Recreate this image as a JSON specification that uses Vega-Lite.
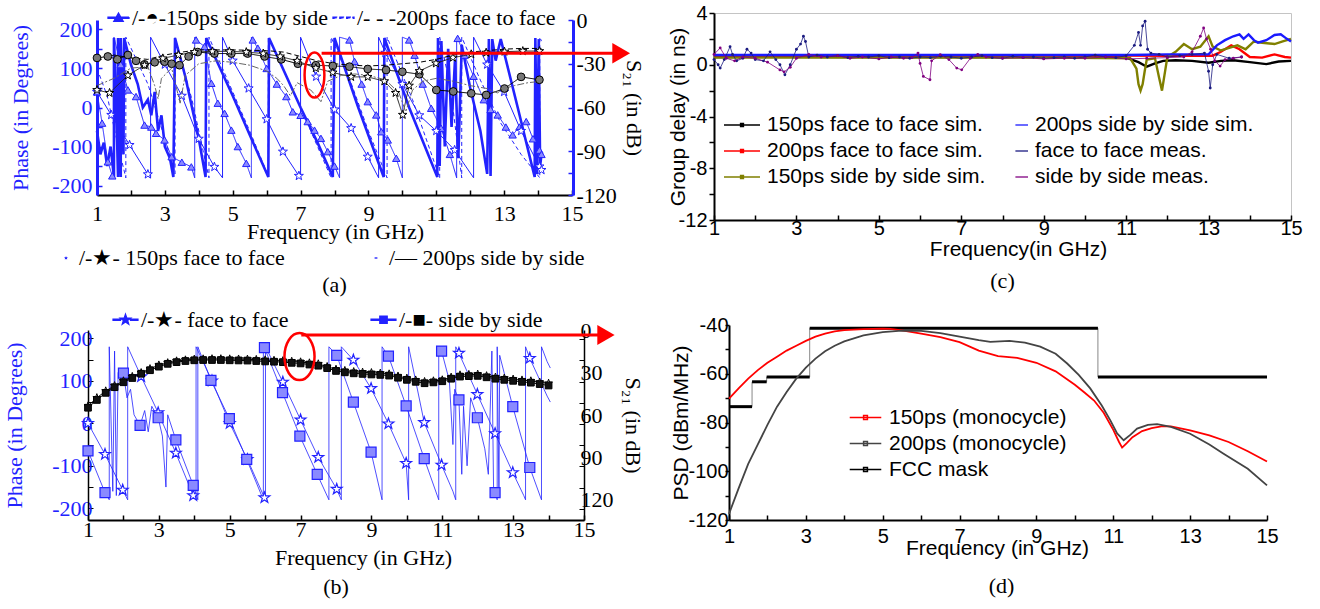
{
"$schema": "https://vega.github.io/schema/vega-lite/v6.json",
"autosize": {"type": "none"},
"padding": {"left": 88, "top": 13, "right": 1232, "bottom": 596},
"background": "#ffffff",
"config": {"view": {"stroke": null}, "axis": {"grid": false, "labelFontWeight": "normal", "titleFontWeight": "normal"}, "legend": {"symbolLimit": 0}, "title": {"fontWeight": "normal"}},
"datasets": {
"aPhase": [
{"s":"150ps side by side","f":1.0,"v":40},{"s":"150ps side by side","f":1.15,"v":-40},{"s":"150ps side by side","f":1.32,"v":-139},{"s":"150ps side by side","f":1.45,"v":-175},{"s":"150ps side by side","f":1.5,"v":-180},{"s":"150ps side by side","f":1.5,"v":180},{"s":"150ps side by side","f":1.7,"v":110},{"s":"150ps side by side","f":1.91,"v":45},{"s":"150ps side by side","f":2.15,"v":28},{"s":"150ps side by side","f":2.4,"v":-45},{"s":"150ps side by side","f":2.6,"v":-50},{"s":"150ps side by side","f":2.74,"v":-66},{"s":"150ps side by side","f":2.99,"v":-83},{"s":"150ps side by side","f":3.2,"v":-126},{"s":"150ps side by side","f":3.5,"v":-140},{"s":"150ps side by side","f":3.78,"v":-152},{"s":"150ps side by side","f":3.88,"v":-180},{"s":"150ps side by side","f":3.88,"v":180},{"s":"150ps side by side","f":3.92,"v":173},{"s":"150ps side by side","f":4.17,"v":156},{"s":"150ps side by side","f":4.37,"v":62},{"s":"150ps side by side","f":4.56,"v":11},{"s":"150ps side by side","f":4.76,"v":-15},{"s":"150ps side by side","f":4.96,"v":-58},{"s":"150ps side by side","f":5.15,"v":-100},{"s":"150ps side by side","f":5.4,"v":-143},{"s":"150ps side by side","f":5.55,"v":-180},{"s":"150ps side by side","f":5.55,"v":180},{"s":"150ps side by side","f":5.59,"v":173},{"s":"150ps side by side","f":5.74,"v":152},{"s":"150ps side by side","f":6.0,"v":100},{"s":"150ps side by side","f":6.3,"v":60},{"s":"150ps side by side","f":6.58,"v":28},{"s":"150ps side by side","f":6.77,"v":-11},{"s":"150ps side by side","f":7.0,"v":-20},{"s":"150ps side by side","f":7.21,"v":-36},{"s":"150ps side by side","f":7.41,"v":-58},{"s":"150ps side by side","f":7.6,"v":-79},{"s":"150ps side by side","f":7.8,"v":-113},{"s":"150ps side by side","f":8.0,"v":-150},{"s":"150ps side by side","f":8.15,"v":-180},{"s":"150ps side by side","f":8.15,"v":180},{"s":"150ps side by side","f":8.44,"v":173},{"s":"150ps side by side","f":8.59,"v":118},{"s":"150ps side by side","f":8.8,"v":60},{"s":"150ps side by side","f":8.98,"v":15},{"s":"150ps side by side","f":9.23,"v":-19},{"s":"150ps side by side","f":9.38,"v":-62},{"s":"150ps side by side","f":9.57,"v":-83},{"s":"150ps side by side","f":9.82,"v":-130},{"s":"150ps side by side","f":10.0,"v":-180},{"s":"150ps side by side","f":10.0,"v":180},{"s":"150ps side by side","f":10.2,"v":173},{"s":"150ps side by side","f":10.36,"v":134},{"s":"150ps side by side","f":10.6,"v":60},{"s":"150ps side by side","f":10.85,"v":-2},{"s":"150ps side by side","f":11.14,"v":-53},{"s":"150ps side by side","f":11.4,"v":-120},{"s":"150ps side by side","f":11.6,"v":-180},{"s":"150ps side by side","f":11.6,"v":180},{"s":"150ps side by side","f":11.63,"v":177},{"s":"150ps side by side","f":11.83,"v":134},{"s":"150ps side by side","f":12.1,"v":80},{"s":"150ps side by side","f":12.4,"v":20},{"s":"150ps side by side","f":12.6,"v":-5},{"s":"150ps side by side","f":12.81,"v":-19},{"s":"150ps side by side","f":13.05,"v":-50},{"s":"150ps side by side","f":13.25,"v":-70},{"s":"150ps side by side","f":13.45,"v":-50},{"s":"150ps side by side","f":13.65,"v":-36},{"s":"150ps side by side","f":13.85,"v":-80},{"s":"150ps side by side","f":14.04,"v":-109},{"s":"150ps side by side","f":14.1,"v":-120},
{"s":"200ps face to face","f":1.0,"v":100},{"s":"200ps face to face","f":1.3,"v":30},{"s":"200ps face to face","f":1.6,"v":-90},{"s":"200ps face to face","f":1.85,"v":-180},{"s":"200ps face to face","f":1.85,"v":180},{"s":"200ps face to face","f":2.5,"v":60},{"s":"200ps face to face","f":3.0,"v":-80},{"s":"200ps face to face","f":3.3,"v":-170},{"s":"200ps face to face","f":3.3,"v":180},{"s":"200ps face to face","f":3.8,"v":20},{"s":"200ps face to face","f":4.3,"v":-180},{"s":"200ps face to face","f":4.3,"v":180},{"s":"200ps face to face","f":5.0,"v":40},{"s":"200ps face to face","f":5.5,"v":-60},{"s":"200ps face to face","f":6.05,"v":-175},{"s":"200ps face to face","f":6.05,"v":180},{"s":"200ps face to face","f":7.0,"v":0},{"s":"200ps face to face","f":7.9,"v":-180},{"s":"200ps face to face","f":7.9,"v":180},{"s":"200ps face to face","f":8.5,"v":60},{"s":"200ps face to face","f":9.0,"v":-60},{"s":"200ps face to face","f":9.55,"v":-180},{"s":"200ps face to face","f":9.55,"v":180},{"s":"200ps face to face","f":10.3,"v":20},{"s":"200ps face to face","f":11.1,"v":-180},{"s":"200ps face to face","f":11.1,"v":180},{"s":"200ps face to face","f":11.4,"v":60},{"s":"200ps face to face","f":11.75,"v":-180},{"s":"200ps face to face","f":11.75,"v":180},{"s":"200ps face to face","f":12.3,"v":70},{"s":"200ps face to face","f":12.9,"v":-40},{"s":"200ps face to face","f":13.5,"v":-120},{"s":"200ps face to face","f":14.05,"v":-180},{"s":"200ps face to face","f":14.05,"v":180},{"s":"200ps face to face","f":14.1,"v":170},
{"s":"150ps face to face","f":1.0,"v":40},{"s":"150ps face to face","f":1.42,"v":-19},{"s":"150ps face to face","f":1.96,"v":-96},{"s":"150ps face to face","f":2.5,"v":-171},{"s":"150ps face to face","f":2.58,"v":-180},{"s":"150ps face to face","f":2.58,"v":180},{"s":"150ps face to face","f":3.0,"v":110},{"s":"150ps face to face","f":3.5,"v":30},{"s":"150ps face to face","f":4.0,"v":-80},{"s":"150ps face to face","f":4.46,"v":-152},{"s":"150ps face to face","f":4.7,"v":-180},{"s":"150ps face to face","f":4.7,"v":180},{"s":"150ps face to face","f":5.0,"v":120},{"s":"150ps face to face","f":5.47,"v":49},{"s":"150ps face to face","f":6.0,"v":-30},{"s":"150ps face to face","f":6.48,"v":-113},{"s":"150ps face to face","f":6.95,"v":-175},{"s":"150ps face to face","f":7.0,"v":-180},{"s":"150ps face to face","f":7.0,"v":180},{"s":"150ps face to face","f":7.46,"v":79},{"s":"150ps face to face","f":8.0,"v":-5},{"s":"150ps face to face","f":8.49,"v":-53},{"s":"150ps face to face","f":8.98,"v":-126},{"s":"150ps face to face","f":9.3,"v":-180},{"s":"150ps face to face","f":9.3,"v":180},{"s":"150ps face to face","f":9.5,"v":140},{"s":"150ps face to face","f":10.0,"v":60},{"s":"150ps face to face","f":10.5,"v":-20},{"s":"150ps face to face","f":11.0,"v":-60},{"s":"150ps face to face","f":11.54,"v":-109},{"s":"150ps face to face","f":12.1,"v":-180},{"s":"150ps face to face","f":12.1,"v":180},{"s":"150ps face to face","f":12.5,"v":110},{"s":"150ps face to face","f":13.0,"v":40},{"s":"150ps face to face","f":13.5,"v":-60},{"s":"150ps face to face","f":14.04,"v":-151},{"s":"150ps face to face","f":14.1,"v":-160},
{"s":"200ps side by side","f":1.0,"v":-60},{"s":"200ps side by side","f":1.1,"v":-120},{"s":"200ps side by side","f":1.2,"v":-90},{"s":"200ps side by side","f":1.3,"v":-150},{"s":"200ps side by side","f":1.4,"v":-100},{"s":"200ps side by side","f":1.5,"v":-178},{"s":"200ps side by side","f":1.5,"v":178},{"s":"200ps side by side","f":1.55,"v":60},{"s":"200ps side by side","f":1.62,"v":-178},{"s":"200ps side by side","f":1.62,"v":178},{"s":"200ps side by side","f":1.7,"v":-178},{"s":"200ps side by side","f":1.7,"v":178},{"s":"200ps side by side","f":1.78,"v":-120},{"s":"200ps side by side","f":1.8,"v":178},{"s":"200ps side by side","f":2.0,"v":110},{"s":"200ps side by side","f":2.2,"v":60},{"s":"200ps side by side","f":2.35,"v":0},{"s":"200ps side by side","f":2.5,"v":20},{"s":"200ps side by side","f":2.6,"v":-20},{"s":"200ps side by side","f":2.7,"v":40},{"s":"200ps side by side","f":2.8,"v":-60},{"s":"200ps side by side","f":2.9,"v":-20},{"s":"200ps side by side","f":3.0,"v":-100},{"s":"200ps side by side","f":3.15,"v":-130},{"s":"200ps side by side","f":3.25,"v":-178},{"s":"200ps side by side","f":3.3,"v":178},{"s":"200ps side by side","f":3.6,"v":80},{"s":"200ps side by side","f":4.0,"v":-80},{"s":"200ps side by side","f":4.2,"v":-178},{"s":"200ps side by side","f":4.22,"v":178},{"s":"200ps side by side","f":5.0,"v":30},{"s":"200ps side by side","f":5.5,"v":-70},{"s":"200ps side by side","f":6.05,"v":-178},{"s":"200ps side by side","f":6.07,"v":178},{"s":"200ps side by side","f":7.0,"v":0},{"s":"200ps side by side","f":7.5,"v":-90},{"s":"200ps side by side","f":7.95,"v":-178},{"s":"200ps side by side","f":8.0,"v":178},{"s":"200ps side by side","f":8.7,"v":0},{"s":"200ps side by side","f":9.45,"v":-178},{"s":"200ps side by side","f":9.47,"v":178},{"s":"200ps side by side","f":10.2,"v":0},{"s":"200ps side by side","f":11.03,"v":-178},{"s":"200ps side by side","f":11.05,"v":178},{"s":"200ps side by side","f":11.1,"v":-150},{"s":"200ps side by side","f":11.15,"v":170},{"s":"200ps side by side","f":11.25,"v":-100},{"s":"200ps side by side","f":11.35,"v":150},{"s":"200ps side by side","f":11.45,"v":-50},{"s":"200ps side by side","f":11.55,"v":120},{"s":"200ps side by side","f":11.65,"v":-130},{"s":"200ps side by side","f":11.75,"v":160},{"s":"200ps side by side","f":12.0,"v":50},{"s":"200ps side by side","f":12.3,"v":-60},{"s":"200ps side by side","f":12.5,"v":-170},{"s":"200ps side by side","f":12.55,"v":175},{"s":"200ps side by side","f":12.6,"v":-175},{"s":"200ps side by side","f":12.65,"v":175},{"s":"200ps side by side","f":12.75,"v":120},{"s":"200ps side by side","f":12.9,"v":175},{"s":"200ps side by side","f":13.4,"v":0},{"s":"200ps side by side","f":13.9,"v":-178},{"s":"200ps side by side","f":13.92,"v":178},{"s":"200ps side by side","f":13.97,"v":-170},{"s":"200ps side by side","f":14.02,"v":175},{"s":"200ps side by side","f":14.06,"v":-150},{"s":"200ps side by side","f":14.1,"v":-120}
],
"aS21": [
{"s":"150ps side by side","f":1.0,"v":-26},{"s":"150ps side by side","f":1.32,"v":-25},{"s":"150ps side by side","f":1.6,"v":-27},{"s":"150ps side by side","f":1.91,"v":-24},{"s":"150ps side by side","f":2.15,"v":-28},{"s":"150ps side by side","f":2.4,"v":-30.4},{"s":"150ps side by side","f":2.7,"v":-29},{"s":"150ps side by side","f":2.99,"v":-28.6},{"s":"150ps side by side","f":3.2,"v":-30},{"s":"150ps side by side","f":3.43,"v":-31},{"s":"150ps side by side","f":3.7,"v":-25},{"s":"150ps side by side","f":3.97,"v":-22},{"s":"150ps side by side","f":4.46,"v":-23},{"s":"150ps side by side","f":4.96,"v":-23},{"s":"150ps side by side","f":5.44,"v":-23},{"s":"150ps side by side","f":5.94,"v":-25},{"s":"150ps side by side","f":6.43,"v":-27},{"s":"150ps side by side","f":6.92,"v":-30},{"s":"150ps side by side","f":7.45,"v":-31},{"s":"150ps side by side","f":7.95,"v":-31.5},{"s":"150ps side by side","f":8.44,"v":-32},{"s":"150ps side by side","f":8.98,"v":-33.6},{"s":"150ps side by side","f":9.52,"v":-34.3},{"s":"150ps side by side","f":10.0,"v":-35.5},{"s":"150ps side by side","f":10.5,"v":-37.2},{"s":"150ps side by side","f":11.0,"v":-48},{"s":"150ps side by side","f":11.5,"v":-49},{"s":"150ps side by side","f":12.03,"v":-50.3},{"s":"150ps side by side","f":12.47,"v":-51.4},{"s":"150ps side by side","f":13.01,"v":-47},{"s":"150ps side by side","f":13.5,"v":-39},{"s":"150ps side by side","f":14.04,"v":-41},
{"s":"150ps face to face","f":1.0,"v":-48},{"s":"150ps face to face","f":1.37,"v":-50},{"s":"150ps face to face","f":1.91,"v":-38},{"s":"150ps face to face","f":2.4,"v":-31},{"s":"150ps face to face","f":2.94,"v":-26.3},{"s":"150ps face to face","f":3.4,"v":-24},{"s":"150ps face to face","f":3.87,"v":-22},{"s":"150ps face to face","f":4.4,"v":-21.5},{"s":"150ps face to face","f":4.9,"v":-21.5},{"s":"150ps face to face","f":5.4,"v":-22},{"s":"150ps face to face","f":5.9,"v":-23},{"s":"150ps face to face","f":6.4,"v":-25},{"s":"150ps face to face","f":6.9,"v":-28},{"s":"150ps face to face","f":7.45,"v":-33},{"s":"150ps face to face","f":7.95,"v":-36},{"s":"150ps face to face","f":8.49,"v":-39},{"s":"150ps face to face","f":8.98,"v":-39},{"s":"150ps face to face","f":9.47,"v":-42},{"s":"150ps face to face","f":9.8,"v":-50},{"s":"150ps face to face","f":10.01,"v":-65},{"s":"150ps face to face","f":10.2,"v":-45},{"s":"150ps face to face","f":10.5,"v":-35},{"s":"150ps face to face","f":10.99,"v":-29.7},{"s":"150ps face to face","f":11.49,"v":-25.8},{"s":"150ps face to face","f":12.03,"v":-23.5},{"s":"150ps face to face","f":12.47,"v":-22.4},{"s":"150ps face to face","f":13.01,"v":-21.7},{"s":"150ps face to face","f":13.55,"v":-21.3},{"s":"150ps face to face","f":14.04,"v":-21.3},
{"s":"200ps face to face","f":1.0,"v":-28},{"s":"200ps face to face","f":1.5,"v":-24},{"s":"200ps face to face","f":2.0,"v":-26},{"s":"200ps face to face","f":2.5,"v":-27},{"s":"200ps face to face","f":3.0,"v":-24},{"s":"200ps face to face","f":3.5,"v":-22},{"s":"200ps face to face","f":4.0,"v":-20.5},{"s":"200ps face to face","f":5.0,"v":-20.5},{"s":"200ps face to face","f":6.0,"v":-21},{"s":"200ps face to face","f":6.5,"v":-22},{"s":"200ps face to face","f":7.0,"v":-25},{"s":"200ps face to face","f":7.5,"v":-28},{"s":"200ps face to face","f":8.0,"v":-30},{"s":"200ps face to face","f":8.5,"v":-31},{"s":"200ps face to face","f":9.0,"v":-31.5},{"s":"200ps face to face","f":9.5,"v":-31},{"s":"200ps face to face","f":10.0,"v":-30},{"s":"200ps face to face","f":10.5,"v":-29},{"s":"200ps face to face","f":11.0,"v":-27},{"s":"200ps face to face","f":11.5,"v":-24},{"s":"200ps face to face","f":12.0,"v":-22},{"s":"200ps face to face","f":12.5,"v":-21},{"s":"200ps face to face","f":13.0,"v":-20},{"s":"200ps face to face","f":13.5,"v":-19.5},{"s":"200ps face to face","f":14.1,"v":-19.5},
{"s":"200ps side by side","f":1.0,"v":-45},{"s":"200ps side by side","f":1.5,"v":-40},{"s":"200ps side by side","f":2.0,"v":-33},{"s":"200ps side by side","f":2.5,"v":-32},{"s":"200ps side by side","f":2.7,"v":-45},{"s":"200ps side by side","f":2.8,"v":-54},{"s":"200ps side by side","f":2.9,"v":-40},{"s":"200ps side by side","f":3.2,"v":-33},{"s":"200ps side by side","f":3.45,"v":-57},{"s":"200ps side by side","f":3.6,"v":-38},{"s":"200ps side by side","f":4.0,"v":-30},{"s":"200ps side by side","f":4.5,"v":-28},{"s":"200ps side by side","f":5.0,"v":-29},{"s":"200ps side by side","f":5.5,"v":-31},{"s":"200ps side by side","f":6.0,"v":-35},{"s":"200ps side by side","f":6.3,"v":-40},{"s":"200ps side by side","f":6.5,"v":-45},{"s":"200ps side by side","f":6.7,"v":-52},{"s":"200ps side by side","f":6.9,"v":-43},{"s":"200ps side by side","f":7.3,"v":-48},{"s":"200ps side by side","f":7.6,"v":-56},{"s":"200ps side by side","f":7.8,"v":-42},{"s":"200ps side by side","f":8.2,"v":-38},{"s":"200ps side by side","f":8.6,"v":-37},{"s":"200ps side by side","f":9.0,"v":-38},{"s":"200ps side by side","f":9.5,"v":-41},{"s":"200ps side by side","f":9.9,"v":-50},{"s":"200ps side by side","f":10.1,"v":-63},{"s":"200ps side by side","f":10.3,"v":-48},{"s":"200ps side by side","f":10.6,"v":-42},{"s":"200ps side by side","f":11.0,"v":-40},{"s":"200ps side by side","f":11.5,"v":-42},{"s":"200ps side by side","f":12.0,"v":-45},{"s":"200ps side by side","f":12.5,"v":-47},{"s":"200ps side by side","f":12.8,"v":-50},{"s":"200ps side by side","f":13.0,"v":-47},{"s":"200ps side by side","f":13.3,"v":-45},{"s":"200ps side by side","f":13.7,"v":-43},{"s":"200ps side by side","f":14.1,"v":-42}
],
"aNote": [{"k":"ring","f":7.41,"v":-37.7},{"k":"line","f":7.62,"v":-22.8},{"k":"line","f":16.3,"v":-22.8},{"k":"head","f":16.45,"v":-22.8}],
"bPhase": [
{"s":"face to face","f":1.0,"v":0},{"s":"face to face","f":1.48,"v":-73},{"s":"face to face","f":1.98,"v":-157},{"s":"face to face","f":2.12,"v":-180},{"s":"face to face","f":2.12,"v":180},{"s":"face to face","f":2.5,"v":110},{"s":"face to face","f":2.98,"v":25},{"s":"face to face","f":3.48,"v":-70},{"s":"face to face","f":3.97,"v":-170},{"s":"face to face","f":4.05,"v":-180},{"s":"face to face","f":4.05,"v":180},{"s":"face to face","f":4.5,"v":100},{"s":"face to face","f":5.0,"v":0},{"s":"face to face","f":5.5,"v":-85},{"s":"face to face","f":5.98,"v":-175},{"s":"face to face","f":6.01,"v":-180},{"s":"face to face","f":6.01,"v":180},{"s":"face to face","f":6.5,"v":97},{"s":"face to face","f":7.0,"v":8},{"s":"face to face","f":7.5,"v":-80},{"s":"face to face","f":8.02,"v":-155},{"s":"face to face","f":8.15,"v":-180},{"s":"face to face","f":8.15,"v":180},{"s":"face to face","f":8.49,"v":149},{"s":"face to face","f":8.99,"v":82},{"s":"face to face","f":9.48,"v":-1},{"s":"face to face","f":9.98,"v":-94},{"s":"face to face","f":10.05,"v":-180},{"s":"face to face","f":10.05,"v":180},{"s":"face to face","f":10.49,"v":2},{"s":"face to face","f":10.98,"v":-98},{"s":"face to face","f":11.3,"v":-160},{"s":"face to face","f":11.38,"v":-180},{"s":"face to face","f":11.38,"v":180},{"s":"face to face","f":11.47,"v":165},{"s":"face to face","f":11.99,"v":68},{"s":"face to face","f":12.49,"v":-24},{"s":"face to face","f":12.99,"v":-116},{"s":"face to face","f":13.3,"v":-170},{"s":"face to face","f":13.35,"v":-180},{"s":"face to face","f":13.35,"v":180},{"s":"face to face","f":13.47,"v":153},{"s":"face to face","f":13.96,"v":64},{"s":"face to face","f":14.05,"v":50},
{"s":"side by side","f":1.0,"v":-65},{"s":"side by side","f":1.48,"v":-163},{"s":"side by side","f":1.6,"v":-180},{"s":"side by side","f":1.6,"v":180},{"s":"side by side","f":1.7,"v":-160},{"s":"side by side","f":1.75,"v":170},{"s":"side by side","f":1.8,"v":-170},{"s":"side by side","f":1.85,"v":120},{"s":"side by side","f":2.0,"v":118},{"s":"side by side","f":2.1,"v":60},{"s":"side by side","f":2.2,"v":80},{"s":"side by side","f":2.3,"v":20},{"s":"side by side","f":2.47,"v":-5},{"s":"side by side","f":2.6,"v":30},{"s":"side by side","f":2.7,"v":-20},{"s":"side by side","f":2.8,"v":40},{"s":"side by side","f":2.98,"v":13},{"s":"side by side","f":3.1,"v":-30},{"s":"side by side","f":3.2,"v":-150},{"s":"side by side","f":3.25,"v":20},{"s":"side by side","f":3.48,"v":-39},{"s":"side by side","f":3.97,"v":-146},{"s":"side by side","f":4.1,"v":-180},{"s":"side by side","f":4.1,"v":180},{"s":"side by side","f":4.47,"v":101},{"s":"side by side","f":4.99,"v":11},{"s":"side by side","f":5.48,"v":-85},{"s":"side by side","f":5.95,"v":-180},{"s":"side by side","f":5.95,"v":180},{"s":"side by side","f":5.98,"v":178},{"s":"side by side","f":6.49,"v":72},{"s":"side by side","f":6.98,"v":-30},{"s":"side by side","f":7.47,"v":-120},{"s":"side by side","f":7.8,"v":-180},{"s":"side by side","f":7.8,"v":180},{"s":"side by side","f":8.02,"v":160},{"s":"side by side","f":8.49,"v":50},{"s":"side by side","f":8.99,"v":-68},{"s":"side by side","f":9.3,"v":-180},{"s":"side by side","f":9.3,"v":180},{"s":"side by side","f":9.48,"v":158},{"s":"side by side","f":9.98,"v":41},{"s":"side by side","f":10.49,"v":-83},{"s":"side by side","f":10.9,"v":-180},{"s":"side by side","f":10.9,"v":180},{"s":"side by side","f":10.98,"v":170},{"s":"side by side","f":11.2,"v":100},{"s":"side by side","f":11.3,"v":-50},{"s":"side by side","f":11.35,"v":80},{"s":"side by side","f":11.47,"v":55},{"s":"side by side","f":11.55,"v":-120},{"s":"side by side","f":11.6,"v":40},{"s":"side by side","f":11.7,"v":-100},{"s":"side by side","f":11.8,"v":60},{"s":"side by side","f":11.99,"v":13},{"s":"side by side","f":12.2,"v":-60},{"s":"side by side","f":12.3,"v":-120},{"s":"side by side","f":12.4,"v":170},{"s":"side by side","f":12.45,"v":-170},{"s":"side by side","f":12.49,"v":-163},{"s":"side by side","f":12.55,"v":-180},{"s":"side by side","f":12.55,"v":180},{"s":"side by side","f":12.6,"v":-175},{"s":"side by side","f":12.62,"v":160},{"s":"side by side","f":12.99,"v":39},{"s":"side by side","f":13.47,"v":-104},{"s":"side by side","f":13.8,"v":-180},{"s":"side by side","f":13.8,"v":180},{"s":"side by side","f":13.96,"v":145},{"s":"side by side","f":14.05,"v":130}
],
"bS21": [
{"s":"face to face","f":1.0,"v":47.3},{"s":"face to face","f":1.25,"v":41.5},{"s":"face to face","f":1.5,"v":36.7},{"s":"face to face","f":1.75,"v":33},{"s":"face to face","f":2.0,"v":29.6},{"s":"face to face","f":2.25,"v":26.5},{"s":"face to face","f":2.5,"v":23.8},{"s":"face to face","f":2.75,"v":21},{"s":"face to face","f":3.0,"v":18.4},{"s":"face to face","f":3.25,"v":16.8},{"s":"face to face","f":3.5,"v":15.5},{"s":"face to face","f":3.75,"v":14.8},{"s":"face to face","f":4.0,"v":14.3},{"s":"face to face","f":4.25,"v":14.1},{"s":"face to face","f":4.5,"v":14},{"s":"face to face","f":4.75,"v":14},{"s":"face to face","f":5.0,"v":14.1},{"s":"face to face","f":5.25,"v":14.2},{"s":"face to face","f":5.5,"v":14.3},{"s":"face to face","f":5.75,"v":14.5},{"s":"face to face","f":6.0,"v":14.8},{"s":"face to face","f":6.25,"v":15.1},{"s":"face to face","f":6.5,"v":15.4},{"s":"face to face","f":6.75,"v":15.8},{"s":"face to face","f":7.0,"v":16.2},{"s":"face to face","f":7.25,"v":16.9},{"s":"face to face","f":7.5,"v":17.6},{"s":"face to face","f":7.75,"v":19.5},{"s":"face to face","f":8.0,"v":21.4},{"s":"face to face","f":8.25,"v":22.3},{"s":"face to face","f":8.5,"v":23.1},{"s":"face to face","f":8.75,"v":23.5},{"s":"face to face","f":9.0,"v":23.8},{"s":"face to face","f":9.25,"v":24.2},{"s":"face to face","f":9.5,"v":24.7},{"s":"face to face","f":9.75,"v":26.2},{"s":"face to face","f":10.0,"v":27.7},{"s":"face to face","f":10.25,"v":29},{"s":"face to face","f":10.5,"v":30.1},{"s":"face to face","f":10.75,"v":29.6},{"s":"face to face","f":11.0,"v":28.9},{"s":"face to face","f":11.25,"v":27},{"s":"face to face","f":11.5,"v":25.4},{"s":"face to face","f":11.75,"v":25.1},{"s":"face to face","f":12.0,"v":24.9},{"s":"face to face","f":12.25,"v":26},{"s":"face to face","f":12.5,"v":27},{"s":"face to face","f":12.75,"v":27.7},{"s":"face to face","f":13.0,"v":28.4},{"s":"face to face","f":13.25,"v":29},{"s":"face to face","f":13.5,"v":29.6},{"s":"face to face","f":13.75,"v":30.5},{"s":"face to face","f":14.0,"v":31.3},
{"s":"side by side","f":1.0,"v":48.5},{"s":"side by side","f":1.25,"v":43},{"s":"side by side","f":1.5,"v":38},{"s":"side by side","f":1.75,"v":34},{"s":"side by side","f":2.0,"v":30.5},{"s":"side by side","f":2.25,"v":27.5},{"s":"side by side","f":2.5,"v":24.5},{"s":"side by side","f":2.75,"v":22},{"s":"side by side","f":3.0,"v":19.5},{"s":"side by side","f":3.25,"v":17.5},{"s":"side by side","f":3.5,"v":16.3},{"s":"side by side","f":3.75,"v":15.5},{"s":"side by side","f":4.0,"v":15},{"s":"side by side","f":4.25,"v":14.8},{"s":"side by side","f":4.5,"v":14.8},{"s":"side by side","f":4.75,"v":14.8},{"s":"side by side","f":5.0,"v":15},{"s":"side by side","f":5.25,"v":15.1},{"s":"side by side","f":5.5,"v":15.2},{"s":"side by side","f":5.75,"v":15.5},{"s":"side by side","f":6.0,"v":15.8},{"s":"side by side","f":6.25,"v":16},{"s":"side by side","f":6.5,"v":16.3},{"s":"side by side","f":6.75,"v":16.8},{"s":"side by side","f":7.0,"v":17.2},{"s":"side by side","f":7.25,"v":18},{"s":"side by side","f":7.5,"v":18.8},{"s":"side by side","f":7.75,"v":20.5},{"s":"side by side","f":8.0,"v":22.5},{"s":"side by side","f":8.25,"v":23.5},{"s":"side by side","f":8.5,"v":24.2},{"s":"side by side","f":8.75,"v":24.6},{"s":"side by side","f":9.0,"v":25},{"s":"side by side","f":9.25,"v":25.3},{"s":"side by side","f":9.5,"v":25.8},{"s":"side by side","f":9.75,"v":27.3},{"s":"side by side","f":10.0,"v":28.8},{"s":"side by side","f":10.25,"v":30.2},{"s":"side by side","f":10.5,"v":31.2},{"s":"side by side","f":10.75,"v":30.6},{"s":"side by side","f":11.0,"v":29.8},{"s":"side by side","f":11.25,"v":28},{"s":"side by side","f":11.5,"v":26.5},{"s":"side by side","f":11.75,"v":26.2},{"s":"side by side","f":12.0,"v":26},{"s":"side by side","f":12.25,"v":27},{"s":"side by side","f":12.5,"v":28},{"s":"side by side","f":12.75,"v":28.8},{"s":"side by side","f":13.0,"v":29.5},{"s":"side by side","f":13.25,"v":30.2},{"s":"side by side","f":13.5,"v":30.8},{"s":"side by side","f":13.75,"v":31.8},{"s":"side by side","f":14.0,"v":32.8}
],
"bNote": [{"k":"ring","f":6.97,"v":12.4},{"k":"line","f":7.02,"v":-2.8},{"k":"line","f":15.5,"v":-2.8},{"k":"head","f":15.62,"v":-2.8}],
"cData": [
{"s":"150ps face to face sim.","f":1,"v":0.6},{"s":"150ps face to face sim.","f":3,"v":0.62},{"s":"150ps face to face sim.","f":5,"v":0.6},{"s":"150ps face to face sim.","f":7,"v":0.6},{"s":"150ps face to face sim.","f":9,"v":0.58},{"s":"150ps face to face sim.","f":10.5,"v":0.6},{"s":"150ps face to face sim.","f":11,"v":0.55},{"s":"150ps face to face sim.","f":11.3,"v":0.2},{"s":"150ps face to face sim.","f":11.5,"v":-0.15},{"s":"150ps face to face sim.","f":11.7,"v":0.1},{"s":"150ps face to face sim.","f":11.9,"v":0.3},{"s":"150ps face to face sim.","f":12.2,"v":0.35},{"s":"150ps face to face sim.","f":12.6,"v":0.3},{"s":"150ps face to face sim.","f":13,"v":0.15},{"s":"150ps face to face sim.","f":13.3,"v":0.3},{"s":"150ps face to face sim.","f":13.6,"v":0.35},{"s":"150ps face to face sim.","f":14,"v":0.2},{"s":"150ps face to face sim.","f":14.4,"v":0.05},{"s":"150ps face to face sim.","f":14.7,"v":0.25},{"s":"150ps face to face sim.","f":15,"v":0.3},
{"s":"200ps face to face sim.","f":1,"v":0.72},{"s":"200ps face to face sim.","f":5,"v":0.72},{"s":"200ps face to face sim.","f":9,"v":0.7},{"s":"200ps face to face sim.","f":11,"v":0.72},{"s":"200ps face to face sim.","f":12,"v":0.7},{"s":"200ps face to face sim.","f":13.1,"v":0.7},{"s":"200ps face to face sim.","f":13.3,"v":1.0},{"s":"200ps face to face sim.","f":13.55,"v":1.5},{"s":"200ps face to face sim.","f":13.75,"v":1.2},{"s":"200ps face to face sim.","f":14,"v":0.6},{"s":"200ps face to face sim.","f":14.3,"v":0.55},{"s":"200ps face to face sim.","f":14.6,"v":0.8},{"s":"200ps face to face sim.","f":14.85,"v":0.6},{"s":"200ps face to face sim.","f":15,"v":0.55},
{"s":"150ps side by side sim.","f":1,"v":0.55},{"s":"150ps side by side sim.","f":5,"v":0.55},{"s":"150ps side by side sim.","f":9,"v":0.55},{"s":"150ps side by side sim.","f":11.1,"v":0.5},{"s":"150ps side by side sim.","f":11.25,"v":-0.3},{"s":"150ps side by side sim.","f":11.3,"v":-1.5},{"s":"150ps side by side sim.","f":11.35,"v":-2.0},{"s":"150ps side by side sim.","f":11.4,"v":-1.5},{"s":"150ps side by side sim.","f":11.45,"v":-0.5},{"s":"150ps side by side sim.","f":11.5,"v":0.4},{"s":"150ps side by side sim.","f":11.7,"v":0.5},{"s":"150ps side by side sim.","f":11.8,"v":-1.0},{"s":"150ps side by side sim.","f":11.87,"v":-2.0},{"s":"150ps side by side sim.","f":11.93,"v":-0.8},{"s":"150ps side by side sim.","f":12,"v":0.6},{"s":"150ps side by side sim.","f":12.2,"v":1.0},{"s":"150ps side by side sim.","f":12.4,"v":1.6},{"s":"150ps side by side sim.","f":12.6,"v":1.2},{"s":"150ps side by side sim.","f":12.8,"v":1.4},{"s":"150ps side by side sim.","f":13,"v":2.2},{"s":"150ps side by side sim.","f":13.1,"v":1.4},{"s":"150ps side by side sim.","f":13.3,"v":1.1},{"s":"150ps side by side sim.","f":13.5,"v":1.3},{"s":"150ps side by side sim.","f":13.7,"v":1.5},{"s":"150ps side by side sim.","f":13.9,"v":1.2},{"s":"150ps side by side sim.","f":14.1,"v":1.8},{"s":"150ps side by side sim.","f":14.3,"v":1.7},{"s":"150ps side by side sim.","f":14.6,"v":1.6},{"s":"150ps side by side sim.","f":14.8,"v":1.8},{"s":"150ps side by side sim.","f":15,"v":2.0},
{"s":"200ps side by side sim.","f":1,"v":0.75},{"s":"200ps side by side sim.","f":5,"v":0.75},{"s":"200ps side by side sim.","f":9,"v":0.75},{"s":"200ps side by side sim.","f":11,"v":0.75},{"s":"200ps side by side sim.","f":12,"v":0.8},{"s":"200ps side by side sim.","f":13,"v":0.8},{"s":"200ps side by side sim.","f":13.2,"v":1.5},{"s":"200ps side by side sim.","f":13.4,"v":1.9},{"s":"200ps side by side sim.","f":13.6,"v":2.2},{"s":"200ps side by side sim.","f":13.75,"v":2.35},{"s":"200ps side by side sim.","f":13.85,"v":2.0},{"s":"200ps side by side sim.","f":13.97,"v":2.35},{"s":"200ps side by side sim.","f":14.1,"v":1.9},{"s":"200ps side by side sim.","f":14.2,"v":1.7},{"s":"200ps side by side sim.","f":14.4,"v":1.9},{"s":"200ps side by side sim.","f":14.6,"v":2.3},{"s":"200ps side by side sim.","f":14.75,"v":2.35},{"s":"200ps side by side sim.","f":14.9,"v":2.0},{"s":"200ps side by side sim.","f":15,"v":1.8},
{"s":"face to face meas.","f":1.0,"v":0.4},{"s":"face to face meas.","f":1.1,"v":0.0},{"s":"face to face meas.","f":1.15,"v":-0.26},{"s":"face to face meas.","f":1.25,"v":0.4},{"s":"face to face meas.","f":1.39,"v":1.4},{"s":"face to face meas.","f":1.45,"v":0.8},{"s":"face to face meas.","f":1.55,"v":0.3},{"s":"face to face meas.","f":1.7,"v":0.5},{"s":"face to face meas.","f":1.8,"v":1.2},{"s":"face to face meas.","f":1.9,"v":0.9},{"s":"face to face meas.","f":2.0,"v":0.4},{"s":"face to face meas.","f":2.2,"v":0.3},{"s":"face to face meas.","f":2.36,"v":1.0},{"s":"face to face meas.","f":2.5,"v":0.4},{"s":"face to face meas.","f":2.6,"v":0.0},{"s":"face to face meas.","f":2.72,"v":-0.78},{"s":"face to face meas.","f":2.85,"v":0.0},{"s":"face to face meas.","f":3.0,"v":1.2},{"s":"face to face meas.","f":3.1,"v":1.6},{"s":"face to face meas.","f":3.17,"v":2.2},{"s":"face to face meas.","f":3.22,"v":1.8},{"s":"face to face meas.","f":3.3,"v":0.6},{"s":"face to face meas.","f":3.5,"v":0.75},{"s":"face to face meas.","f":3.75,"v":0.6},{"s":"face to face meas.","f":4.0,"v":0.7},{"s":"face to face meas.","f":4.25,"v":0.55},{"s":"face to face meas.","f":4.5,"v":0.65},{"s":"face to face meas.","f":4.75,"v":0.6},{"s":"face to face meas.","f":5.0,"v":0.7},{"s":"face to face meas.","f":5.25,"v":0.55},{"s":"face to face meas.","f":5.5,"v":0.6},{"s":"face to face meas.","f":5.75,"v":0.5},{"s":"face to face meas.","f":6.0,"v":0.6},{"s":"face to face meas.","f":6.25,"v":0.55},{"s":"face to face meas.","f":6.5,"v":0.65},{"s":"face to face meas.","f":6.75,"v":0.6},{"s":"face to face meas.","f":7.0,"v":0.5},{"s":"face to face meas.","f":7.25,"v":0.6},{"s":"face to face meas.","f":7.5,"v":0.7},{"s":"face to face meas.","f":7.75,"v":0.55},{"s":"face to face meas.","f":8.0,"v":0.5},{"s":"face to face meas.","f":8.25,"v":0.65},{"s":"face to face meas.","f":8.5,"v":0.55},{"s":"face to face meas.","f":8.75,"v":0.6},{"s":"face to face meas.","f":9.0,"v":0.5},{"s":"face to face meas.","f":9.25,"v":0.55},{"s":"face to face meas.","f":9.5,"v":0.6},{"s":"face to face meas.","f":9.75,"v":0.5},{"s":"face to face meas.","f":10.0,"v":0.6},{"s":"face to face meas.","f":10.25,"v":0.75},{"s":"face to face meas.","f":10.5,"v":0.6},{"s":"face to face meas.","f":10.75,"v":0.55},{"s":"face to face meas.","f":11.0,"v":0.7},{"s":"face to face meas.","f":11.2,"v":1.5},{"s":"face to face meas.","f":11.3,"v":2.5},{"s":"face to face meas.","f":11.35,"v":1.5},{"s":"face to face meas.","f":11.4,"v":3.0},{"s":"face to face meas.","f":11.46,"v":3.36},{"s":"face to face meas.","f":11.52,"v":1.2},{"s":"face to face meas.","f":11.6,"v":0.9},{"s":"face to face meas.","f":11.8,"v":0.8},{"s":"face to face meas.","f":12.0,"v":0.6},{"s":"face to face meas.","f":12.3,"v":0.7},{"s":"face to face meas.","f":12.6,"v":0.8},{"s":"face to face meas.","f":12.9,"v":0.9},{"s":"face to face meas.","f":13.0,"v":-0.5},{"s":"face to face meas.","f":13.04,"v":-1.8},{"s":"face to face meas.","f":13.1,"v":0.0},{"s":"face to face meas.","f":13.2,"v":0.8},{"s":"face to face meas.","f":13.5,"v":0.5},{"s":"face to face meas.","f":13.8,"v":0.6},
{"s":"side by side meas.","f":1.0,"v":0.8},{"s":"side by side meas.","f":1.15,"v":1.3},{"s":"side by side meas.","f":1.3,"v":0.5},{"s":"side by side meas.","f":1.5,"v":0.3},{"s":"side by side meas.","f":1.7,"v":0.6},{"s":"side by side meas.","f":2.0,"v":0.5},{"s":"side by side meas.","f":2.3,"v":0.2},{"s":"side by side meas.","f":2.6,"v":-0.4},{"s":"side by side meas.","f":2.7,"v":-0.55},{"s":"side by side meas.","f":2.85,"v":-0.2},{"s":"side by side meas.","f":3.0,"v":0.5},{"s":"side by side meas.","f":3.3,"v":0.8},{"s":"side by side meas.","f":3.6,"v":0.6},{"s":"side by side meas.","f":4.0,"v":0.7},{"s":"side by side meas.","f":4.3,"v":0.5},{"s":"side by side meas.","f":4.6,"v":0.6},{"s":"side by side meas.","f":5.0,"v":0.45},{"s":"side by side meas.","f":5.3,"v":0.6},{"s":"side by side meas.","f":5.6,"v":0.5},{"s":"side by side meas.","f":5.8,"v":0.55},{"s":"side by side meas.","f":5.95,"v":0.9},{"s":"side by side meas.","f":6.0,"v":0.1},{"s":"side by side meas.","f":6.08,"v":-0.9},{"s":"side by side meas.","f":6.24,"v":-1.16},{"s":"side by side meas.","f":6.28,"v":0.3},{"s":"side by side meas.","f":6.49,"v":0.78},{"s":"side by side meas.","f":6.7,"v":0.4},{"s":"side by side meas.","f":6.89,"v":-0.26},{"s":"side by side meas.","f":7.01,"v":-0.39},{"s":"side by side meas.","f":7.22,"v":0.5},{"s":"side by side meas.","f":7.4,"v":0.8},{"s":"side by side meas.","f":7.6,"v":0.6},{"s":"side by side meas.","f":8.0,"v":0.5},{"s":"side by side meas.","f":8.5,"v":0.55},{"s":"side by side meas.","f":9.0,"v":0.45},{"s":"side by side meas.","f":9.5,"v":0.5},{"s":"side by side meas.","f":10.0,"v":0.5},{"s":"side by side meas.","f":10.5,"v":0.6},{"s":"side by side meas.","f":11.0,"v":0.45},{"s":"side by side meas.","f":11.5,"v":0.5},{"s":"side by side meas.","f":12.0,"v":0.55},{"s":"side by side meas.","f":12.4,"v":0.6},{"s":"side by side meas.","f":12.6,"v":1.0},{"s":"side by side meas.","f":12.8,"v":2.2},{"s":"side by side meas.","f":12.88,"v":2.84},{"s":"side by side meas.","f":12.95,"v":2.0},{"s":"side by side meas.","f":13.05,"v":1.2},{"s":"side by side meas.","f":13.15,"v":0.3},{"s":"side by side meas.","f":13.28,"v":-0.1},{"s":"side by side meas.","f":13.4,"v":0.4},{"s":"side by side meas.","f":13.6,"v":0.5},{"s":"side by side meas.","f":13.8,"v":0.6}
],
"dPsd": [
{"s":"150ps (monocycle)","f":1.0,"v":-70.2},{"s":"150ps (monocycle)","f":1.25,"v":-66},{"s":"150ps (monocycle)","f":1.5,"v":-62},{"s":"150ps (monocycle)","f":1.75,"v":-58.5},{"s":"150ps (monocycle)","f":2.0,"v":-55.5},{"s":"150ps (monocycle)","f":2.25,"v":-53},{"s":"150ps (monocycle)","f":2.5,"v":-50.5},{"s":"150ps (monocycle)","f":2.75,"v":-48.5},{"s":"150ps (monocycle)","f":3.0,"v":-46.5},{"s":"150ps (monocycle)","f":3.25,"v":-44.8},{"s":"150ps (monocycle)","f":3.5,"v":-43.5},{"s":"150ps (monocycle)","f":3.75,"v":-42.6},{"s":"150ps (monocycle)","f":4.0,"v":-42.1},{"s":"150ps (monocycle)","f":4.5,"v":-41.7},{"s":"150ps (monocycle)","f":5.0,"v":-41.5},{"s":"150ps (monocycle)","f":5.2,"v":-41.6},{"s":"150ps (monocycle)","f":5.5,"v":-42.2},{"s":"150ps (monocycle)","f":6.0,"v":-43.5},{"s":"150ps (monocycle)","f":6.5,"v":-45},{"s":"150ps (monocycle)","f":7.0,"v":-47},{"s":"150ps (monocycle)","f":7.5,"v":-50.5},{"s":"150ps (monocycle)","f":8.0,"v":-52.8},{"s":"150ps (monocycle)","f":8.5,"v":-53.5},{"s":"150ps (monocycle)","f":9.0,"v":-55.5},{"s":"150ps (monocycle)","f":9.5,"v":-59},{"s":"150ps (monocycle)","f":10.0,"v":-64.5},{"s":"150ps (monocycle)","f":10.25,"v":-67.7},{"s":"150ps (monocycle)","f":10.5,"v":-71},{"s":"150ps (monocycle)","f":10.75,"v":-76},{"s":"150ps (monocycle)","f":11.0,"v":-83},{"s":"150ps (monocycle)","f":11.15,"v":-88},{"s":"150ps (monocycle)","f":11.23,"v":-90.3},{"s":"150ps (monocycle)","f":11.35,"v":-88.5},{"s":"150ps (monocycle)","f":11.5,"v":-86},{"s":"150ps (monocycle)","f":11.75,"v":-83.5},{"s":"150ps (monocycle)","f":12.0,"v":-82.3},{"s":"150ps (monocycle)","f":12.25,"v":-81.6},{"s":"150ps (monocycle)","f":12.5,"v":-81.6},{"s":"150ps (monocycle)","f":13.0,"v":-83.2},{"s":"150ps (monocycle)","f":13.5,"v":-85.3},{"s":"150ps (monocycle)","f":14.0,"v":-88},{"s":"150ps (monocycle)","f":14.5,"v":-91.8},{"s":"150ps (monocycle)","f":15.0,"v":-96},
{"s":"200ps (monocycle)","f":1.0,"v":-117.5},{"s":"200ps (monocycle)","f":1.25,"v":-107},{"s":"200ps (monocycle)","f":1.5,"v":-97},{"s":"200ps (monocycle)","f":1.75,"v":-89},{"s":"200ps (monocycle)","f":2.0,"v":-81},{"s":"200ps (monocycle)","f":2.25,"v":-73.5},{"s":"200ps (monocycle)","f":2.5,"v":-67.5},{"s":"200ps (monocycle)","f":2.75,"v":-62},{"s":"200ps (monocycle)","f":3.0,"v":-57.5},{"s":"200ps (monocycle)","f":3.25,"v":-53.8},{"s":"200ps (monocycle)","f":3.5,"v":-50.8},{"s":"200ps (monocycle)","f":3.75,"v":-48.5},{"s":"200ps (monocycle)","f":4.0,"v":-46.7},{"s":"200ps (monocycle)","f":4.5,"v":-44.3},{"s":"200ps (monocycle)","f":5.0,"v":-42.9},{"s":"200ps (monocycle)","f":5.5,"v":-42.3},{"s":"200ps (monocycle)","f":6.0,"v":-42.4},{"s":"200ps (monocycle)","f":6.5,"v":-43.3},{"s":"200ps (monocycle)","f":7.0,"v":-44.8},{"s":"200ps (monocycle)","f":7.5,"v":-46.2},{"s":"200ps (monocycle)","f":7.8,"v":-46.9},{"s":"200ps (monocycle)","f":8.3,"v":-46.5},{"s":"200ps (monocycle)","f":8.7,"v":-47.2},{"s":"200ps (monocycle)","f":9.1,"v":-48.9},{"s":"200ps (monocycle)","f":9.5,"v":-51.8},{"s":"200ps (monocycle)","f":9.8,"v":-55.8},{"s":"200ps (monocycle)","f":10.1,"v":-60.5},{"s":"200ps (monocycle)","f":10.4,"v":-66},{"s":"200ps (monocycle)","f":10.7,"v":-73},{"s":"200ps (monocycle)","f":10.92,"v":-79},{"s":"200ps (monocycle)","f":11.1,"v":-84.5},{"s":"200ps (monocycle)","f":11.27,"v":-87.3},{"s":"200ps (monocycle)","f":11.45,"v":-85},{"s":"200ps (monocycle)","f":11.62,"v":-82.5},{"s":"200ps (monocycle)","f":11.9,"v":-81},{"s":"200ps (monocycle)","f":12.14,"v":-80.7},{"s":"200ps (monocycle)","f":12.5,"v":-81.8},{"s":"200ps (monocycle)","f":13.0,"v":-84.6},{"s":"200ps (monocycle)","f":13.5,"v":-89},{"s":"200ps (monocycle)","f":13.87,"v":-92.8},{"s":"200ps (monocycle)","f":14.5,"v":-99},{"s":"200ps (monocycle)","f":15.0,"v":-105.8}
],
"dFcc": [{"f":1.0,"f2":1.6,"v":-73.5},{"f":1.6,"f2":1.98,"v":-63.3},{"f":1.98,"f2":3.1,"v":-61.3},{"f":3.1,"f2":10.6,"v":-41.3},{"f":10.6,"f2":15.0,"v":-61.3}]
},
"columns": 2, "spacing": {"row": 105, "column": 130}, "bounds": "flush", "align": "each",
"resolve": {"scale": {"x": "independent", "y": "independent", "color": "independent", "strokeDash": "independent", "size": "independent", "shape": "independent"}, "legend": {"color": "independent", "strokeDash": "independent", "size": "independent", "shape": "independent"}},
"concat": [
{
 "width": 485, "height": 182,
 "title": {"text": "(a)", "orient": "bottom", "offset": 6, "dx": 4, "font": "Liberation Serif", "fontSize": 22, "fontWeight": "normal", "color": "#000"},
 "encoding": {
  "x": {"field": "f", "type": "quantitative", "scale": {"domain": [1, 15], "range": [9, 484], "nice": false, "zero": false},
   "axis": {"values": [1,2,3,4,5,6,7,8,9,10,11,12,13,14,15], "labelExpr": "datum.value % 2 == 1 ? '' + datum.value : ''", "title": "Frequency (in GHz)", "titleX": 247, "labelFont": "Liberation Serif", "labelFontSize": 22, "titleFont": "Liberation Serif", "titleFontSize": 22, "labelColor": "#000", "titleColor": "#000", "domainColor": "#000", "domainWidth": 2, "tickColor": "#000", "tickWidth": 1.5, "tickSize": -5, "labelPadding": 13, "titlePadding": -3, "labelFlush": false, "labelOverlap": false, "labelBound": false}}
 },
 "layer": [
  {"data": {"name": "aPhase"}, "transform": [{"filter": "datum.s == '150ps side by side' || datum.s == '200ps face to face'"}],
   "mark": {"type": "line", "color": "#2222ff", "strokeWidth": 1},
   "encoding": {
    "y": {"field": "v", "type": "quantitative", "scale": {"domain": [-224, 224], "range": [182, 7], "nice": false, "zero": false},
     "axis": {"orient": "left", "offset": -9, "values": [-200,-150,-100,-50,0,50,100,150,200], "labelExpr": "datum.value % 100 == 0 ? '' + datum.value : ''", "title": "Phase (in Degrees)", "labelFont": "Liberation Serif", "labelFontSize": 22, "titleFont": "Liberation Serif", "titleFontSize": 22, "labelColor": "#2222ff", "titleColor": "#2222ff", "domainColor": "#2222ff", "domainWidth": 3, "tickColor": "#2222ff", "tickWidth": 1.5, "tickSize": -5, "labelPadding": 10, "titlePadding": 19, "labelOverlap": false, "labelBound": false, "labelFlush": false}},
    "order": {"value": null},
    "strokeDash": {"field": "s", "type": "nominal", "scale": {"domain": ["150ps side by side", "200ps face to face"], "range": [[1, 0], [4, 3]]},
     "legend": {"title": null, "orient": "none", "legendX": 19, "legendY": -7, "direction": "horizontal", "columns": 2, "columnPadding": 2, "padding": 0, "labelFont": "Liberation Serif", "labelFontSize": 22, "labelColor": "#000", "labelOffset": 2, "labelLimit": 400, "symbolStrokeColor": "#2222ff", "symbolFillColor": "#2222ff",
      "labelExpr": "datum.label == '150ps side by side' ? '/-◓-150ps side by side' : '/- - -200ps face to face'",
      "encode": {"symbols": {"update": {"shape": {"signal": "datum.value == '150ps side by side' ? 'M-1,-0.06H1V0.06H-1Z M-0.45,0.35L0,-0.45L0.45,0.35Z' : 'M-1,-0.06H-0.65V0.06H-1Z M-0.35,-0.06H0V0.06H-0.35Z M0.3,-0.06H0.65V0.06H0.3Z M0.85,-0.06H1V0.06H0.85Z'"}, "size": {"value": 441}, "strokeWidth": {"value": 1.3}, "opacity": {"value": 1}}}}}}}},
  {"data": {"name": "aPhase"}, "transform": [{"filter": "datum.s == '150ps face to face' || datum.s == '200ps side by side'"}],
   "mark": {"type": "line", "color": "#2222ff"},
   "encoding": {
    "y": {"field": "v", "type": "quantitative", "scale": {"domain": [-224, 224], "range": [182, 7], "nice": false, "zero": false}, "axis": null},
    "order": {"value": null},
    "size": {"field": "s", "type": "ordinal", "scale": {"domain": ["150ps face to face", "200ps side by side"], "range": [1, 2.6]},
     "legend": {"title": null, "orient": "none", "legendX": -33, "legendY": 234, "direction": "horizontal", "columns": 2, "columnPadding": 80, "padding": 0, "labelFont": "Liberation Serif", "labelFontSize": 22, "labelColor": "#000", "labelOffset": 2, "labelLimit": 400, "symbolStrokeColor": "#2222ff", "symbolFillColor": "#2222ff",
      "labelExpr": "datum.label == '150ps face to face' ? '/-★- 150ps face to face' : '/— 200ps side by side'",
      "encode": {"symbols": {"update": {"shape": {"signal": "datum.value == '150ps face to face' ? 'M-1,-0.05H-0.4V0.05H-1Z M0.4,-0.05H1V0.05H0.4Z M0,-0.45L0.106,-0.146L0.428,-0.139L0.171,0.056L0.265,0.364L0,0.18L-0.265,0.364L-0.171,0.056L-0.428,-0.139L-0.106,-0.146Z' : 'M-1,-0.1H1V0.1H-1Z'"}, "size": {"value": 529}, "strokeWidth": {"value": 1.2}, "opacity": {"value": 1}}}}}}}},
  {"data": {"name": "aPhase"}, "transform": [{"filter": "datum.s == '150ps side by side' && abs(datum.v) < 180"}],
   "mark": {"type": "point", "shape": "triangle-up", "size": 55, "filled": true, "fill": "#8a8aff", "stroke": "#2222ff", "strokeWidth": 1, "opacity": 1},
   "encoding": {"y": {"field": "v", "type": "quantitative", "scale": {"domain": [-224, 224], "range": [182, 7], "nice": false, "zero": false}, "axis": null}}},
  {"data": {"name": "aPhase"}, "transform": [{"filter": "datum.s == '150ps face to face' && abs(datum.v) < 180"}],
   "mark": {"type": "point", "shape": "M0,-1L0.235,-0.324L0.951,-0.309L0.38,0.124L0.588,0.809L0,0.4L-0.588,0.809L-0.38,0.124L-0.951,-0.309L-0.235,-0.324Z", "size": 90, "filled": true, "fill": "#ffffff", "stroke": "#2222ff", "strokeWidth": 1, "opacity": 1},
   "encoding": {"y": {"field": "v", "type": "quantitative", "scale": {"domain": [-224, 224], "range": [182, 7], "nice": false, "zero": false}, "axis": null}}},
  {"data": {"name": "aS21"},
   "mark": {"type": "line", "strokeWidth": 1},
   "encoding": {
    "y": {"field": "v", "type": "quantitative", "scale": {"domain": [-120, 0], "range": [182, 7], "nice": false, "zero": false},
     "axis": {"orient": "right", "values": [-120,-105,-90,-75,-60,-45,-30,-15,0], "labelExpr": "datum.value % 30 == 0 ? '' + datum.value : ''", "title": "S₂₁ (in dB)", "labelFont": "Liberation Serif", "labelFontSize": 22, "titleFont": "Liberation Serif", "titleFontSize": 22, "labelColor": "#000", "titleColor": "#000", "domainColor": "#2222ff", "domainWidth": 3, "tickColor": "#2222ff", "tickWidth": 1.5, "tickSize": -5, "labelPadding": 8, "titlePadding": 5, "labelOverlap": false, "labelBound": false, "labelFlush": false}},
    "order": {"value": null},
    "color": {"field": "s", "type": "nominal", "scale": {"domain": ["150ps side by side", "200ps face to face", "150ps face to face", "200ps side by side"], "range": ["#000000", "#000000", "#222222", "#666666"]}, "legend": null},
    "strokeDash": {"field": "s", "type": "nominal", "scale": {"domain": ["150ps side by side", "200ps face to face", "150ps face to face", "200ps side by side"], "range": [[1, 0], [5, 3], [1, 0], [7, 2, 2, 2]]}, "legend": null}}},
  {"data": {"name": "aS21"}, "transform": [{"filter": "datum.s == '150ps side by side'"}],
   "mark": {"type": "point", "shape": "circle", "size": 60, "filled": true, "fill": "#777777", "stroke": "#000000", "strokeWidth": 1, "opacity": 1},
   "encoding": {"y": {"field": "v", "type": "quantitative", "scale": {"domain": [-120, 0], "range": [182, 7], "nice": false, "zero": false}, "axis": null}}},
  {"data": {"name": "aS21"}, "transform": [{"filter": "datum.s == '150ps face to face'"}],
   "mark": {"type": "point", "shape": "M0,-1L0.235,-0.324L0.951,-0.309L0.38,0.124L0.588,0.809L0,0.4L-0.588,0.809L-0.38,0.124L-0.951,-0.309L-0.235,-0.324Z", "size": 80, "filled": true, "fill": "#ffffff", "stroke": "#000000", "strokeWidth": 1, "opacity": 1},
   "encoding": {"y": {"field": "v", "type": "quantitative", "scale": {"domain": [-120, 0], "range": [182, 7], "nice": false, "zero": false}, "axis": null}}},
  {"data": {"name": "aNote"}, "transform": [{"filter": "datum.k == 'line'"}], "mark": {"type": "line", "color": "#ff0000", "strokeWidth": 3},
   "encoding": {"y": {"field": "v", "type": "quantitative", "scale": {"domain": [-120, 0], "range": [182, 7], "nice": false, "zero": false}, "axis": null}}},
  {"data": {"name": "aNote"}, "transform": [{"filter": "datum.k == 'head'"}], "mark": {"type": "point", "shape": "triangle-right", "size": 420, "filled": true, "color": "#ff0000", "opacity": 1},
   "encoding": {"y": {"field": "v", "type": "quantitative", "scale": {"domain": [-120, 0], "range": [182, 7], "nice": false, "zero": false}, "axis": null}}},
  {"data": {"name": "aNote"}, "transform": [{"filter": "datum.k == 'ring'"}], "mark": {"type": "point", "shape": "M0,-1A0.44,1 0 1,1 0,1A0.44,1 0 1,1 0,-1Z", "size": 2025, "filled": false, "stroke": "#ff0000", "strokeWidth": 2.5, "opacity": 1},
   "encoding": {"y": {"field": "v", "type": "quantitative", "scale": {"domain": [-120, 0], "range": [182, 7], "nice": false, "zero": false}, "axis": null}}}
 ],
 "resolve": {"scale": {"y": "independent", "strokeDash": "independent", "color": "independent", "size": "independent"}}
},
{
 "width": 577, "height": 207, "view": {"stroke": "#c4c4c4", "strokeWidth": 1},
 "title": {"text": "(c)", "orient": "bottom", "offset": 12, "font": "Liberation Serif", "fontSize": 22, "fontWeight": "normal", "color": "#000"},
 "data": {"name": "cData"},
 "encoding": {
  "x": {"field": "f", "type": "quantitative", "scale": {"domain": [1, 15], "nice": false, "zero": false},
   "axis": {"values": [1,2,3,4,5,6,7,8,9,10,11,12,13,14,15], "labelExpr": "datum.value % 2 == 1 ? '' + datum.value : ''", "title": "Frequency(in GHz)", "titleX": 304, "labelFont": "Liberation Sans", "labelFontSize": 20, "titleFont": "Liberation Sans", "titleFontSize": 21, "labelColor": "#000", "titleColor": "#000", "domainColor": "#000", "domainWidth": 2, "tickColor": "#000", "tickWidth": 1.5, "tickSize": -5, "labelPadding": 3, "titlePadding": 0, "labelFlush": false, "labelOverlap": false, "labelBound": false}},
  "y": {"field": "v", "type": "quantitative", "scale": {"domain": [-12, 4], "nice": false, "zero": false},
   "axis": {"values": [-12,-10,-8,-6,-4,-2,0,2,4], "labelExpr": "datum.value % 4 == 0 ? '' + datum.value : ''", "title": "Group delay (in ns)", "labelFont": "Liberation Sans", "labelFontSize": 20, "titleFont": "Liberation Sans", "titleFontSize": 21, "labelColor": "#000", "titleColor": "#000", "domainColor": "#000", "domainWidth": 2, "tickColor": "#000", "tickWidth": 1.5, "tickSize": 5, "labelPadding": 2, "titlePadding": -10, "labelOverlap": false, "labelBound": false, "labelFlush": false}},
  "color": {"field": "s", "type": "nominal",
   "scale": {"domain": ["150ps face to face sim.", "200ps face to face sim.", "150ps side by side sim.", "200ps side by side sim.", "face to face meas.", "side by side meas."], "range": ["#000000", "#ff0000", "#808000", "#1a1aff", "#1a1a80", "#800080"]},
   "legend": {"title": null, "orient": "none", "legendX": 12, "legendY": 96, "columns": 2, "columnPadding": 8, "rowPadding": 0, "padding": 0, "labelFont": "Liberation Sans", "labelFontSize": 21, "labelColor": "#000", "labelOffset": 9, "labelLimit": 400,
    "encode": {"symbols": {"update": {"shape": {"signal": "indexof(datum.value, 'meas') >= 0 || datum.value == '200ps side by side sim.' ? 'M0.36,0H1.2' : 'M-1.2,0H1.2M-0.1,-0.1H0.1V0.1H-0.1Z'"}, "size": {"value": 900}, "strokeWidth": {"value": 1.3}, "opacity": {"value": 1}}}}}}
 },
 "layer": [
  {"transform": [{"filter": "indexof(datum.s, 'sim') >= 0"}], "mark": {"type": "line", "strokeWidth": 2.4}},
  {"transform": [{"filter": "indexof(datum.s, 'meas') >= 0"}], "mark": {"type": "line", "strokeWidth": 0.8}},
  {"transform": [{"filter": "indexof(datum.s, 'meas') >= 0"}], "mark": {"type": "point", "filled": true, "size": 8, "opacity": 1}}
 ]
},
{
 "width": 496, "height": 195,
 "title": {"text": "(b)", "orient": "bottom", "offset": 9, "font": "Liberation Serif", "fontSize": 22, "fontWeight": "normal", "color": "#000"},
 "encoding": {
  "x": {"field": "f", "type": "quantitative", "scale": {"domain": [1, 15], "nice": false, "zero": false},
   "axis": {"values": [1,2,3,4,5,6,7,8,9,10,11,12,13,14,15], "labelExpr": "datum.value % 2 == 1 ? '' + datum.value : ''", "title": "Frequency (in GHz)", "titleX": 275, "labelFont": "Liberation Serif", "labelFontSize": 22, "titleFont": "Liberation Serif", "titleFontSize": 22, "labelColor": "#000", "titleColor": "#000", "domainColor": "#000", "domainWidth": 2, "tickColor": "#000", "tickWidth": 1.5, "tickSize": -5, "labelPadding": 4, "titlePadding": 7, "labelFlush": false, "labelOverlap": false, "labelBound": false}}
 },
 "layer": [
  {"data": {"name": "bPhase"},
   "mark": {"type": "line", "strokeWidth": 0.8},
   "encoding": {
    "y": {"field": "v", "type": "quantitative", "scale": {"domain": [-227.5, 219.5], "range": [195, 5], "nice": false, "zero": false},
     "axis": {"orient": "left", "values": [-200,-150,-100,-50,0,50,100,150,200], "labelExpr": "datum.value % 100 == 0 ? '' + datum.value : ''", "title": "Phase (in Degrees)", "labelFont": "Liberation Serif", "labelFontSize": 22, "titleFont": "Liberation Serif", "titleFontSize": 22, "labelColor": "#2222ff", "titleColor": "#2222ff", "domainColor": "#000", "domainWidth": 1.5, "tickColor": "#000", "tickWidth": 1, "tickSize": -5, "labelPadding": 1, "titlePadding": 25, "labelOverlap": false, "labelBound": false, "labelFlush": false}},
    "order": {"value": null},
    "color": {"field": "s", "type": "nominal", "scale": {"domain": ["face to face", "side by side"], "range": ["#2222ff", "#2222ff"]},
     "legend": {"title": null, "orient": "none", "legendX": 24, "legendY": -19, "direction": "horizontal", "columns": 2, "columnPadding": 79, "padding": 0, "labelFont": "Liberation Serif", "labelFontSize": 22, "labelColor": "#000", "labelOffset": 2, "labelLimit": 400, "symbolStrokeColor": "#2222ff", "symbolFillColor": "#2222ff",
      "labelExpr": "datum.label == 'face to face' ? '/-★- face to face' : '/-■- side by side'",
      "encode": {"symbols": {"update": {"shape": {"signal": "datum.value == 'face to face' ? 'M-1,-0.05H-0.4V0.05H-1Z M0.4,-0.05H1V0.05H0.4Z M0,-0.45L0.106,-0.146L0.428,-0.139L0.171,0.056L0.265,0.364L0,0.18L-0.265,0.364L-0.171,0.056L-0.428,-0.139L-0.106,-0.146Z' : 'M-1,-0.05H-0.3V0.05H-1Z M0.3,-0.05H1V0.05H0.3Z M-0.3,-0.3H0.3V0.3H-0.3Z'"}, "size": {"value": 625}, "strokeWidth": {"value": 1.2}, "opacity": {"value": 1}}}}}}}},
  {"data": {"name": "bPhase"}, "transform": [{"filter": "datum.s == 'face to face' && abs(datum.v) < 180 && abs(datum.f * 2 - round(datum.f * 2)) < 0.065"}],
   "mark": {"type": "point", "shape": "M0,-1L0.235,-0.324L0.951,-0.309L0.38,0.124L0.588,0.809L0,0.4L-0.588,0.809L-0.38,0.124L-0.951,-0.309L-0.235,-0.324Z", "size": 130, "filled": true, "fill": "#ffffff", "stroke": "#2222ff", "strokeWidth": 1.2, "opacity": 1},
   "encoding": {"y": {"field": "v", "type": "quantitative", "scale": {"domain": [-227.5, 219.5], "range": [195, 5], "nice": false, "zero": false}, "axis": null}}},
  {"data": {"name": "bPhase"}, "transform": [{"filter": "datum.s == 'side by side' && abs(datum.v) < 180 && abs(datum.f * 2 - round(datum.f * 2)) < 0.065"}],
   "mark": {"type": "point", "shape": "square", "size": 100, "filled": true, "fill": "#8a8aff", "stroke": "#2222ff", "strokeWidth": 1.2, "opacity": 1},
   "encoding": {"y": {"field": "v", "type": "quantitative", "scale": {"domain": [-227.5, 219.5], "range": [195, 5], "nice": false, "zero": false}, "axis": null}}},
  {"data": {"name": "bS21"},
   "mark": {"type": "line", "color": "#000000", "strokeWidth": 1},
   "encoding": {
    "y": {"field": "v", "type": "quantitative", "scale": {"domain": [-6.4, 127.8], "range": [5, 195], "nice": false, "zero": false},
     "axis": {"orient": "right", "values": [0,15,30,45,60,75,90,105,120], "labelExpr": "datum.value % 30 == 0 ? '' + datum.value : ''", "title": "S₂₁ (in dB)", "labelFont": "Liberation Serif", "labelFontSize": 22, "titleFont": "Liberation Serif", "titleFontSize": 22, "labelColor": "#000", "titleColor": "#000", "domainColor": "#000", "domainWidth": 1.5, "tickColor": "#000", "tickWidth": 1, "tickSize": -5, "labelPadding": 1, "labelOffset": -9, "titlePadding": 7, "labelOverlap": false, "labelBound": false, "labelFlush": false}},
    "detail": {"field": "s", "type": "nominal"}}},
  {"data": {"name": "bS21"}, "transform": [{"filter": "datum.s == 'face to face'"}],
   "mark": {"type": "point", "shape": "M0,-1L0.235,-0.324L0.951,-0.309L0.38,0.124L0.588,0.809L0,0.4L-0.588,0.809L-0.38,0.124L-0.951,-0.309L-0.235,-0.324Z", "size": 70, "filled": true, "fill": "#ffffff", "stroke": "#000000", "strokeWidth": 1, "opacity": 1},
   "encoding": {"y": {"field": "v", "type": "quantitative", "scale": {"domain": [-6.4, 127.8], "range": [5, 195], "nice": false, "zero": false}, "axis": null}}},
  {"data": {"name": "bS21"}, "transform": [{"filter": "datum.s == 'side by side'"}],
   "mark": {"type": "point", "shape": "square", "size": 45, "filled": true, "fill": "#111111", "stroke": "#000000", "strokeWidth": 1, "opacity": 1},
   "encoding": {"y": {"field": "v", "type": "quantitative", "scale": {"domain": [-6.4, 127.8], "range": [5, 195], "nice": false, "zero": false}, "axis": null}}},
  {"data": {"name": "bNote"}, "transform": [{"filter": "datum.k == 'line'"}], "mark": {"type": "line", "color": "#ff0000", "strokeWidth": 3},
   "encoding": {"y": {"field": "v", "type": "quantitative", "scale": {"domain": [-6.4, 127.8], "range": [5, 195], "nice": false, "zero": false}, "axis": null}}},
  {"data": {"name": "bNote"}, "transform": [{"filter": "datum.k == 'head'"}], "mark": {"type": "point", "shape": "triangle-right", "size": 400, "filled": true, "color": "#ff0000", "opacity": 1},
   "encoding": {"y": {"field": "v", "type": "quantitative", "scale": {"domain": [-6.4, 127.8], "range": [5, 195], "nice": false, "zero": false}, "axis": null}}},
  {"data": {"name": "bNote"}, "transform": [{"filter": "datum.k == 'ring'"}], "mark": {"type": "point", "shape": "M0,-1A0.64,1 0 1,1 0,1A0.64,1 0 1,1 0,-1Z", "size": 2209, "filled": false, "stroke": "#ff0000", "strokeWidth": 2.5, "opacity": 1},
   "encoding": {"y": {"field": "v", "type": "quantitative", "scale": {"domain": [-6.4, 127.8], "range": [5, 195], "nice": false, "zero": false}, "axis": null}}}
 ],
 "resolve": {"scale": {"y": "independent"}}
},
{
 "width": 553, "height": 195,
 "title": {"text": "(d)", "orient": "bottom", "offset": 18, "dx": 11, "font": "Liberation Serif", "fontSize": 22, "fontWeight": "normal", "color": "#000"},
 "encoding": {
  "x": {"field": "f", "type": "quantitative", "scale": {"domain": [1, 15], "range": [15, 553], "nice": false, "zero": false},
   "axis": {"values": [1,2,3,4,5,6,7,8,9,10,11,12,13,14,15], "labelExpr": "datum.value % 2 == 1 ? '' + datum.value : ''", "title": "Frequency (in GHz)", "titleX": 283, "labelFont": "Liberation Sans", "labelFontSize": 20, "titleFont": "Liberation Sans", "titleFontSize": 21, "labelColor": "#000", "titleColor": "#000", "domainColor": "#000", "domainWidth": 2, "tickColor": "#000", "tickWidth": 1.5, "tickSize": -5, "labelPadding": 11, "titlePadding": -9, "labelFlush": false, "labelOverlap": false, "labelBound": false}},
  "y": {"field": "v", "type": "quantitative", "scale": {"domain": [-120, -40], "nice": false, "zero": false},
   "axis": {"offset": -15, "values": [-120,-110,-100,-90,-80,-70,-60,-50,-40], "labelExpr": "datum.value % 20 == 0 ? '' + datum.value : ''", "title": "PSD (dBm/MHz)", "labelFont": "Liberation Sans", "labelFontSize": 20, "titleFont": "Liberation Sans", "titleFontSize": 21, "labelColor": "#000", "titleColor": "#000", "domainColor": "#000", "domainWidth": 2, "tickColor": "#000", "tickWidth": 1.5, "tickSize": 4, "labelPadding": -3, "titlePadding": -4, "labelOverlap": false, "labelBound": false, "labelFlush": false}}
 },
 "layer": [
  {"data": {"values": [{"z": 0}]}, "mark": {"type": "rule", "color": "#c4c4c4", "strokeWidth": 1}, "encoding": {"x": {"datum": 1, "type": "quantitative"}, "x2": {"datum": 15}, "y": {"datum": -40, "type": "quantitative"}}},
  {"data": {"values": [{"z": 0}]}, "mark": {"type": "rule", "color": "#c4c4c4", "strokeWidth": 1}, "encoding": {"x": {"datum": 15, "type": "quantitative"}, "y": {"datum": -120, "type": "quantitative"}, "y2": {"datum": -40}}},
  {"data": {"name": "dFcc"}, "mark": {"type": "line", "interpolate": "step-after", "color": "#888888", "strokeWidth": 1}},
  {"data": {"name": "dFcc"}, "mark": {"type": "rule", "color": "#000000", "strokeWidth": 3}, "encoding": {"x2": {"field": "f2"}}},
  {"data": {"name": "dPsd"}, "mark": {"type": "line", "strokeWidth": 1.8},
   "encoding": {"color": {"field": "s", "type": "nominal",
    "scale": {"domain": ["150ps (monocycle)", "200ps (monocycle)", "FCC mask"], "range": ["#ff0000", "#444444", "#000000"]},
    "legend": {"title": null, "orient": "none", "legendX": 136, "legendY": 77, "direction": "vertical", "rowPadding": 0, "padding": 0, "labelFont": "Liberation Sans", "labelFontSize": 21, "labelColor": "#000", "labelOffset": 8, "labelLimit": 400,
     "encode": {"symbols": {"update": {"shape": {"value": "M-1.07,0H1.07M-0.13,-0.13H0.13V0.13H-0.13Z"}, "size": {"value": 870}, "strokeWidth": {"value": 1.5}, "opacity": {"value": 1}}}}}}}}
 ]
}
]
}
